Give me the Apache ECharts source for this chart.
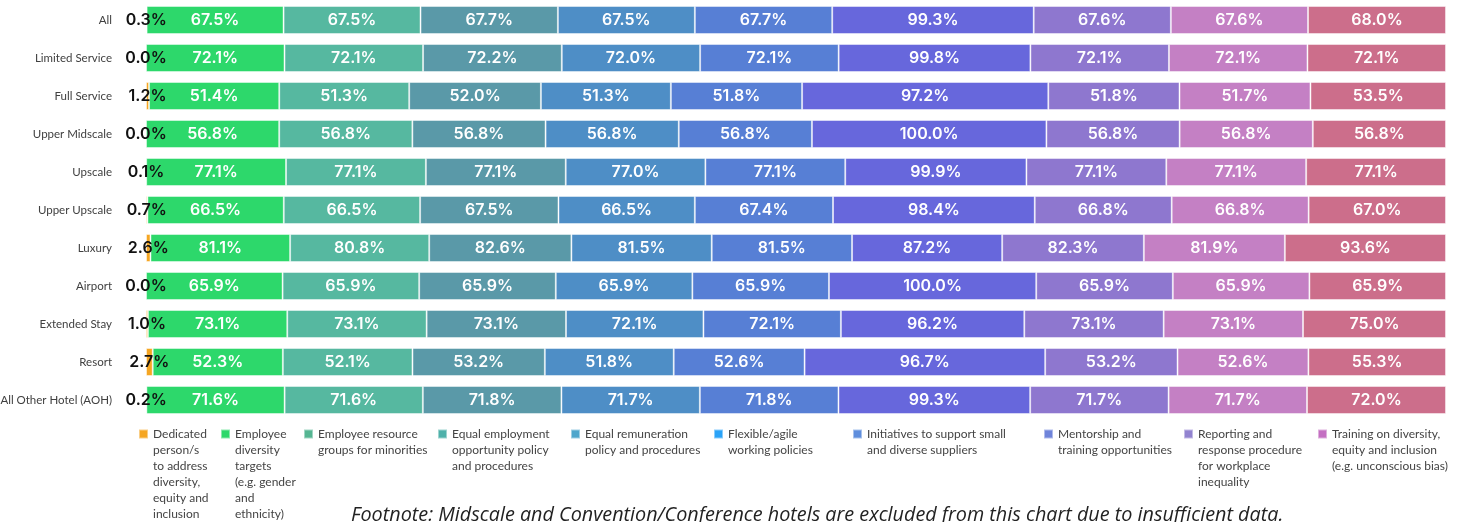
<!DOCTYPE html>
<html><head><meta charset="utf-8">
<script src="https://cdn.jsdelivr.net/npm/echarts@6/dist/echarts.min.js"></script>
<style>html,body{margin:0;padding:0;background:#fff}#c{width:1458px;height:522px}</style>
</head><body><div id="c"></div>
<script>
var categories = ['All','Limited Service','Full Service','Upper Midscale','Upscale','Upper Upscale','Luxury','Airport','Extended Stay','Resort','All Other Hotel (AOH)'];
var seriesNames = [
  'Dedicated person/s to address diversity, equity and inclusion',
  'Employee diversity targets (e.g. gender and ethnicity)',
  'Employee resource groups for minorities',
  'Equal employment opportunity policy and procedures',
  'Equal remuneration policy and procedures',
  'Flexible/agile working policies',
  'Initiatives to support small and diverse suppliers',
  'Mentorship and training opportunities',
  'Reporting and response procedure for workplace inequality',
  'Training on diversity, equity and inclusion (e.g. unconscious bias)'
];
var legendLines = [
  ['Dedicated','person/s','to address','diversity,','equity and','inclusion'],
  ['Employee','diversity','targets','(e.g. gender','and','ethnicity)'],
  ['Employee resource','groups for minorities'],
  ['Equal employment','opportunity policy','and procedures'],
  ['Equal remuneration','policy and procedures'],
  ['Flexible/agile','working policies'],
  ['Initiatives to support small','and diverse suppliers'],
  ['Mentorship and','training opportunities'],
  ['Reporting and','response procedure','for workplace','inequality'],
  ['Training on diversity,','equity and inclusion','(e.g. unconscious bias)']
];
var dedicated    = [0.3, 0.0, 1.2, 0.0, 0.1, 0.7, 2.6, 0.0, 1.0, 2.7, 0.2];
var divTargets   = [67.5, 72.1, 51.4, 56.8, 77.1, 66.5, 81.1, 65.9, 73.1, 52.3, 71.6];
var resGroups    = [67.5, 72.1, 51.3, 56.8, 77.1, 66.5, 80.8, 65.9, 73.1, 52.1, 71.6];
var equalEmploy  = [67.7, 72.2, 52.0, 56.8, 77.1, 67.5, 82.6, 65.9, 73.1, 53.2, 71.8];
var equalRemun   = [67.5, 72.0, 51.3, 56.8, 77.0, 66.5, 81.5, 65.9, 72.1, 51.8, 71.7];
var flexible     = [67.7, 72.1, 51.8, 56.8, 77.1, 67.4, 81.5, 65.9, 72.1, 52.6, 71.8];
var initiatives  = [99.3, 99.8, 97.2, 100.0, 99.9, 98.4, 87.2, 100.0, 96.2, 96.7, 99.3];
var mentorship   = [67.6, 72.1, 51.8, 56.8, 77.1, 66.8, 82.3, 65.9, 73.1, 53.2, 71.7];
var reporting    = [67.6, 72.1, 51.7, 56.8, 77.1, 66.8, 81.9, 65.9, 73.1, 52.6, 71.7];
var training     = [68.0, 72.1, 53.5, 56.8, 77.1, 67.0, 93.6, 65.9, 75.0, 55.3, 72.0];
var allValues = [dedicated, divTargets, resGroups, equalEmploy, equalRemun, flexible, initiatives, mentorship, reporting, training];

var barColors = ['#F5A623','#2DD86B','#56B8A0','#5A99A8','#4E8EC6','#577FD5','#6767DC','#8E77CF','#C480C4','#CC6E8B'];
var legendColors = ['#F5A623','#2DD86B','#55B592','#4FB1AA','#4EA6CC','#2AA3F8','#5F8EDD','#6F84DA','#9283D0','#C46FC2'];
var legendLeft = [138, 220, 303, 437, 570, 713, 852, 1043, 1183, 1317];

var rowSums = categories.map(function(_, i){
  var s = 0; allValues.forEach(function(a){ s += a[i]; }); return s;
});

var series = allValues.map(function(arr, si){
  return {
    name: seriesNames[si],
    type: 'bar',
    stack: 'total',
    barWidth: 28,
    itemStyle: { color: barColors[si], borderColor: 'rgba(255,255,255,0.45)', borderWidth: 1 },
    label: {
      show: true,
      position: 'inside',
      color: si === 0 ? '#111' : '#fff',
      fontFamily: 'Inter',
      fontWeight: 600,
      fontSize: 16,
      formatter: function(p){ return allValues[p.seriesIndex][p.dataIndex].toFixed(1) + '%'; }
    },
    data: arr.map(function(v, i){ return v / rowSums[i] * 100; })
  };
});

var legends = seriesNames.map(function(n, si){
  return {
    left: legendLeft[si],
    top: 346,
    padding: 0,
    itemWidth: 9,
    itemHeight: 9,
    icon: 'rect',
    selectedMode: false,
    data: [{ name: n, itemStyle: { color: legendColors[si] } }],
    textStyle: { fontFamily: 'Lato', fontSize: 12, lineHeight: 16, color: '#444' },
    formatter: function(){
      var lines = legendLines[si];
      var out = [];
      for (var k = 0; k < 5; k++) out.push('');
      lines.forEach(function(l){ out.push(l); });
      for (var k2 = lines.length; k2 < 6; k2++) out.push('');
      return out.join('\n');
    }
  };
});

var chart = echarts.init(document.getElementById('c'));
chart.setOption({
  animation: false,
  title: {
    text: 'Footnote: Midscale and Convention/Conference hotels are excluded from this chart due to insufficient data.',
    left: 351, top: 505, padding: 0,
    textStyle: { fontFamily: 'Open Sans', fontStyle: 'italic', fontWeight: 'normal', fontSize: 19.8, color: '#222' }
  },
  legend: legends,
  grid: { left: 146, right: 12, top: 1, height: 418, containLabel: false, outerBoundsMode: 'none' },
  xAxis: { type: 'value', min: 0, max: 100, show: false },
  yAxis: {
    type: 'category', data: categories, inverse: true,
    axisLine: { show: false }, axisTick: { show: false },
    axisLabel: { margin: 34, fontFamily: 'Lato', fontSize: 11.5, color: '#404040' }
  },
  series: series
});
</script></body></html>
